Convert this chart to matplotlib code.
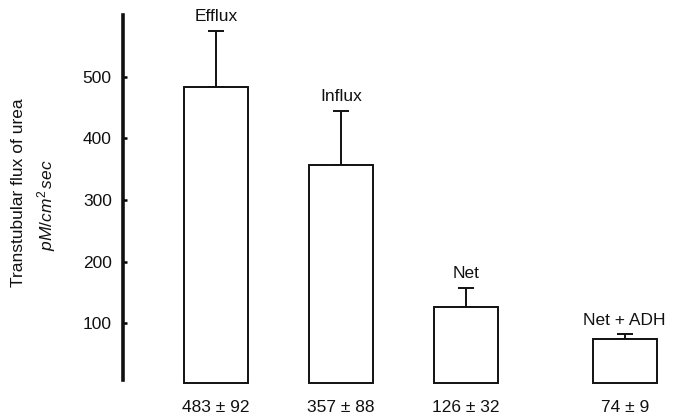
import matplotlib
matplotlib.use("Agg")
import matplotlib.pyplot as plt

# Urea flux measurements (mean ± error)
categories = ["Efflux", "Influx", "Net", "Net + ADH"]
means = [483, 357, 126, 74]
errors = [92, 88, 32, 9]
value_labels = ["483 ± 92", "357 ± 88", "126 ± 32", "74 ± 9"]
yticks = [100, 200, 300, 400, 500]

plt.rcParams["font.family"] = ["Liberation Sans", "DejaVu Sans"]
plt.rcParams["mathtext.fontset"] = "custom"
plt.rcParams["mathtext.it"] = "Liberation Sans:italic"
plt.rcParams["mathtext.rm"] = "Liberation Sans"

ink = "#111111"
fig = plt.figure(figsize=(6.79, 4.18), dpi=100)
ax = fig.add_axes([0.181, 0.0789, 0.819, 0.885])

xpos = [0, 1, 2, 3.27]
width = 0.51
base = 4

ax.bar(xpos, [m - base for m in means], width=width, bottom=base,
       facecolor="white", edgecolor=ink, linewidth=1.4, zorder=2)
ax.errorbar(xpos, means, yerr=[[0] * len(errors), errors], fmt="none",
            ecolor=ink, elinewidth=1.4, capsize=5.5, capthick=1.4, zorder=1)

for x, m, e, cat, vl in zip(xpos, means, errors, categories, value_labels):
    ax.text(x, m + e + 10, cat, ha="center", va="bottom", fontsize=12.5, color=ink)
    ax.text(x, -37, vl, ha="center", va="center", fontsize=12.5, color=ink)

ax.set_xlim(-0.744, 3.704)
ax.set_ylim(0, 600)
ax.set_yticks(yticks)
ax.set_yticklabels([str(t) for t in yticks], fontsize=12.5, color=ink)
ax.tick_params(axis="y", direction="in", length=3, width=1.8, pad=8)
ax.set_xticks([])

for s in ["top", "right", "bottom"]:
    ax.spines[s].set_visible(False)
ax.spines["left"].set_linewidth(2.6)
ax.spines["left"].set_color(ink)
ax.spines["left"].set_bounds(8, 600)

fig.text(0.027, 0.538, "Transtubular flux of urea", rotation=90, ha="center",
         va="center", fontsize=12.5, color=ink)
fig.text(0.069, 0.51, r"$pM/cm^2\,sec$", rotation=90, ha="center",
         va="center", fontsize=12.5, color=ink)

fig.savefig("out.png", dpi=100)
